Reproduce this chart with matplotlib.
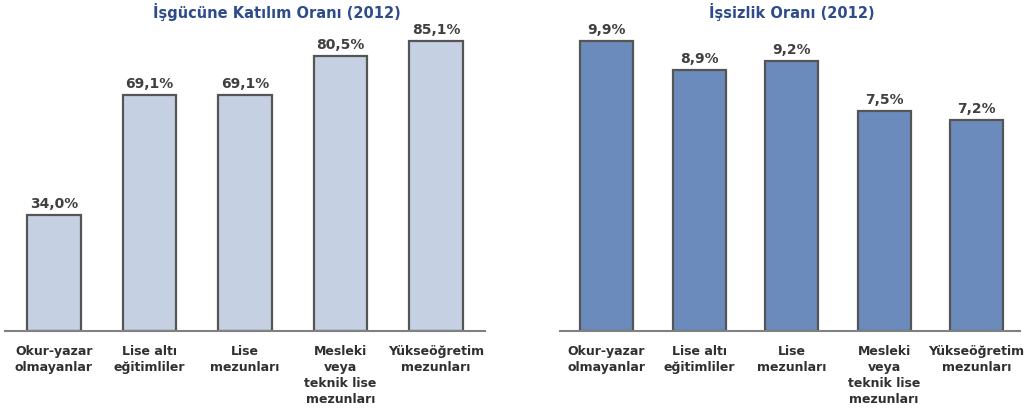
import matplotlib.pyplot as plt

categories = ['Okur-yazar\nolmayanlar', 'Lise altı\neğitimliler', 'Lise\nmezunları',
              'Mesleki\nveya\nteknik lise\nmezunları', 'Yükseöğretim\nmezunları']
katilim = [34.0, 69.1, 69.1, 80.5, 85.1]
issizlik = [9.9, 8.9, 9.2, 7.5, 7.2]
katilim_labels = ['34,0%', '69,1%', '69,1%', '80,5%', '85,1%']
issizlik_labels = ['9,9%', '8,9%', '9,2%', '7,5%', '7,2%']

plt.rcParams['font.family'] = ['DejaVu Sans']

W, H = 1029, 412
fig = plt.figure(figsize=(W / 100, H / 100), dpi=100)


def panel(x0, x1, ylim, values, labels, title, color, xlim, width, title_x):
    # axes in pixel coords: baseline at y=331, top at y=31
    ax = fig.add_axes([x0 / W, (H - 331) / H, (x1 - x0) / W, 300 / H])
    xs = range(len(values))
    bars = ax.bar(xs, values, width=width, color=color, edgecolor='#555555', linewidth=1.6)
    for b, lab in zip(bars, labels):
        ax.annotate(lab, (b.get_x() + b.get_width() / 2, b.get_height()),
                    xytext=(0, 3), textcoords='offset points', ha='center', va='bottom',
                    fontsize=10, fontweight='bold', color='#404040')
    ax.set_xlim(*xlim)
    ax.set_ylim(0, ylim)
    ax.set_xticks(list(xs))
    ax.set_xticklabels(categories, fontsize=9, fontweight='bold', color='#303030',
                       linespacing=1.3, va='top')
    ax.tick_params(axis='x', length=0, pad=10)
    ax.set_yticks([])
    for s in ['top', 'right', 'left']:
        ax.spines[s].set_visible(False)
    ax.spines['bottom'].set_color('#808080')
    ax.spines['bottom'].set_linewidth(1.5)
    fig.text(title_x / W, (H - 12) / H, title, ha='center', va='center', fontsize=10.5,
             fontweight='bold', color='#2E4C8C')
    return ax


panel(5, 485, 300 / 3.41, katilim, katilim_labels, 'İşgücüne Katılım Oranı (2012)',
      '#C5D0E2', (-0.513, 4.513), 0.565, 277)
panel(560, 1020, 300 / 29.3, issizlik, issizlik_labels, 'İşsizlik Oranı (2012)',
      '#6A8BBB', (-0.503, 4.47), 0.573, 792)

fig.savefig('out.png', dpi=100)
